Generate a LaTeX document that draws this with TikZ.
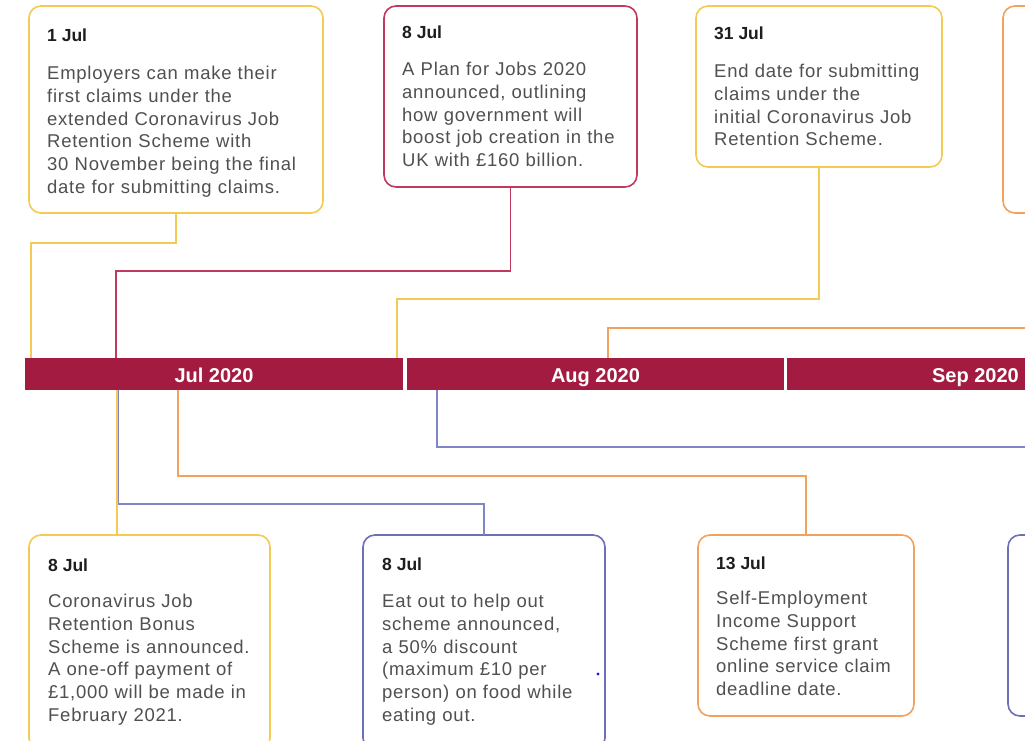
\documentclass[tikz,border=0pt]{standalone}
\usepackage{fontspec}
\setmainfont{Liberation Sans}
\newfontfamily\bodyfont[LetterSpace=4]{Liberation Sans}
\usetikzlibrary{calc}
\definecolor{ylw}{HTML}{F4CB52}
\definecolor{crim}{HTML}{A31B40}
\definecolor{crimline}{HTML}{C0395F}
\definecolor{orng}{HTML}{F2A25C}
\definecolor{blu}{HTML}{7F85C8}
\definecolor{blubox}{HTML}{6C70B8}
\definecolor{bodytxt}{HTML}{505050}
\definecolor{ttltxt}{HTML}{1E1E1E}
\definecolor{dotblue}{HTML}{1A1AE6}
\begin{document}
\begin{tikzpicture}[x=1pt,y=-1pt,
  evbox/.style={draw=#1, line width=1.6pt, rounded corners=12pt, inner sep=0pt, outer sep=0pt, anchor=north west, fill=white},
  ttl/.style={anchor=base west, inner sep=0pt, font=\fontsize{17.5}{20}\selectfont\bfseries, text=ttltxt},
  bdy/.style={anchor=north west, inner sep=0pt, text width=320pt, align=left, font=\fontsize{18.5}{22.9}\selectfont\bodyfont, text=bodytxt},
  seg/.style={fill=crim, inner sep=0pt, outer sep=0pt, minimum height=31.5pt, anchor=north west, text=white, font=\fontsize{20}{24}\selectfont\bfseries, text height=17pt, text depth=0pt},
  conn/.style={draw=#1, line width=1.4pt}
]
\useasboundingbox (0,0) rectangle (1025,741);
\fill[white] (0,0) rectangle (1025,741);
\clip (0,0) rectangle (1025,741);

% timeline bar
\node[seg, minimum width=378pt] (jul) at (25,358) {Jul 2020};
\node[seg, minimum width=377pt] (aug) at (407,358) {Aug 2020};
\node[seg, minimum width=377pt] (sep) at (787,358) {Sep 2020};

% top boxes
\node[evbox=ylw, minimum width=294pt, minimum height=207pt] (b1) at (29,6) {};
\node[evbox=crimline, minimum width=253pt, minimum height=181pt] (b2) at (384,6) {};
\node[evbox=ylw, minimum width=246pt, minimum height=161pt] (b3) at (696,6) {};
\node[evbox=orng, minimum width=250pt, minimum height=207pt] (b4) at (1003,6) {};

% bottom boxes
\node[evbox=ylw, minimum width=241pt, minimum height=215pt] (b5) at (29,535) {};
\node[evbox=blubox, minimum width=242pt, minimum height=215pt] (b6) at (363,535) {};
\node[evbox=orng, minimum width=216pt, minimum height=181pt] (b7) at (698,535) {};
\node[evbox=blubox, minimum width=242pt, minimum height=181pt] (b8) at (1008,535) {};

% texts
\node[ttl] (t1) at (47,42) {1 Jul};
\node[bdy] (d1) at (47,63) {\strut Employers can make their\\first claims under the\\extended Coronavirus Job\\Retention Scheme with\\30 November being the final\\date for submitting claims.};
\node[ttl] (t2) at (402,39) {8 Jul};
\node[bdy] (d2) at (402,59) {\strut A Plan for Jobs 2020\\announced, outlining\\how government will\\boost job creation in the\\UK with £160 billion.};
\node[ttl] (t3) at (714,40) {31 Jul};
\node[bdy] (d3) at (714,61) {\strut End date for submitting\\claims under the\\initial Coronavirus Job\\Retention Scheme.};
\node[ttl] (t5) at (48,571) {8 Jul};
\node[bdy] (d5) at (48,591) {\strut Coronavirus Job\\Retention Bonus\\Scheme is announced.\\A one-off payment of\\£1,000 will be made in\\February 2021.};
\node[ttl] (t6) at (382,570) {8 Jul};
\node[bdy] (d6) at (382,591) {\strut Eat out to help out\\scheme announced,\\a 50\% discount\\(maximum £10 per\\person) on food while\\eating out.};
\node[ttl] (t7) at (716,569) {13 Jul};
\node[bdy] (d7) at (716,588) {\strut Self-Employment\\Income Support\\Scheme first grant\\online service claim\\deadline date.};

% connector end points on the bar
\coordinate (a1) at (31,358);
\coordinate (a2) at (116,358);
\coordinate (a3) at (397,358);
\coordinate (a4) at (608,358);
\coordinate (c5) at (117,389.5);
\coordinate (c6) at (118,389.5);
\coordinate (c7) at (178,389.5);
\coordinate (c8) at (437,389.5);

% top connectors
\draw[conn=ylw] (b1.south) |- (31,243) -- (a1);
\draw[conn=crimline] (b2.south) |- (116,271) -- (a2);
\draw[conn=ylw] (b3.south) |- (397,299) -- (a3);
\draw[conn=orng] (b4.south) |- (608,328) -- (a4);

% bottom connectors
\draw[conn=blu] (c6) |- (b6.north |- 0,504) -- (b6.north);
\draw[conn=ylw] (c5) -- (c5 |- b5.north);
\draw[conn=orng] (c7) |- (b7.north |- 0,476) -- (b7.north);
\draw[conn=blu] (c8) |- (b8.north |- 0,447) -- (b8.north);

% stray dot
\fill[dotblue] (598,674) circle (1.7);
\end{tikzpicture}
\end{document}
